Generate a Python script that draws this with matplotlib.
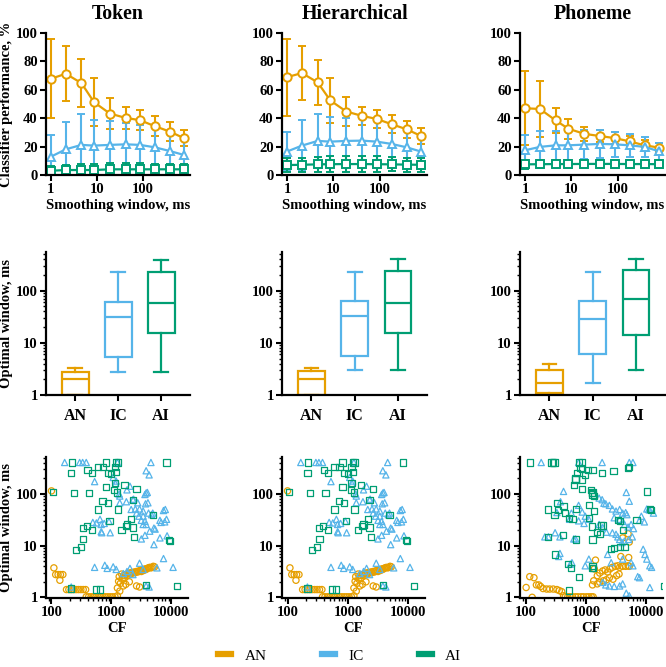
import numpy as np
import matplotlib
matplotlib.use("Agg")
import matplotlib.pyplot as plt
from matplotlib.ticker import LogLocator, NullFormatter
from matplotlib.lines import Line2D

plt.rcParams['font.family'] = ['Liberation Serif', 'DejaVu Serif']
plt.rcParams['font.weight'] = 'bold'
plt.rcParams['axes.labelweight'] = 'bold'

C_AN, C_IC, C_AI = "#E69F00", "#56B4E9", "#009E73"
titles = ["Token", "Hierarchical", "Phoneme"]

# ---- top row: classifier performance vs smoothing window
win = [1, 2.1, 4.6, 8.6, 19, 42, 86, 180, 380, 780]

tok_an = [67.8, 71.3, 64.7, 51.3, 43.3, 40.2, 38.6, 34.4, 30.6, 25.9]
tok_an_sd = [28, 19.5, 17, 17, 11, 7.5, 7, 7, 6.5, 5.5]
tok_ic = [12.9, 18.1, 21.2, 20.7, 21.2, 21.6, 21.2, 19.5, 16.9, 14.1]
tok_ic_sd = [15, 19.5, 22, 18, 17, 15, 14, 13.5, 13, 12]
tok_ai = [3, 3.5, 3.5, 3.5, 4, 4, 4, 4, 4, 4]
tok_ai_sd = [3, 3.5, 4, 4, 4.5, 4.5, 4.5, 4, 4, 4]

hie_an = [68.9, 71.8, 65.2, 52.5, 44.7, 41.6, 39.5, 35.8, 32.2, 27.5]
hie_an_sd = [27, 19, 16, 16, 10, 6.5, 6.5, 6.5, 6, 5.5]
hie_ic = [16.5, 20.7, 24, 23.5, 24, 24.2, 23.5, 21.9, 19.5, 16.5]
hie_ic_sd = [14, 18, 19, 17, 16, 16, 15, 14, 13, 12]
hie_ai = [7, 7.2, 7.5, 7.6, 7.7, 7.7, 7.6, 7.5, 7.3, 7.2]
hie_ai_sd = [5, 5, 5.5, 5.5, 5.5, 5.5, 5.5, 5, 5, 5]

pho_an = [47, 46.5, 38.4, 32.6, 29, 27.4, 26, 23.7, 20.9, 19.3]
pho_an_sd = [26, 20, 9, 7, 5, 4, 4, 4, 4, 3]
pho_ic = [17.4, 19.8, 20.9, 20.9, 21.4, 21.9, 21.6, 20.9, 19.8, 16.7]
pho_ic_sd = [11, 11, 10, 10, 10, 10, 9, 8, 7, 6]
pho_ai = [7.5, 7.6, 7.7, 7.7, 7.8, 7.8, 7.8, 7.7, 7.7, 7.6]
pho_ai_sd = [3, 3, 3, 3, 3, 3, 3, 3, 3, 3]

# ---- middle row: optimal window box stats (min, q1, median, q3, max)
regions = ["AN", "IC", "AI"]
tok_box = [(1, 1, 2, 2.8, 3.3), (2.8, 5.3, 31, 61, 232), (2.8, 15.3, 57, 229, 385)]
hie_box = [(1, 1, 2, 2.9, 3.3), (3, 5.5, 32, 62, 230), (3, 15.5, 58, 235, 400)]
pho_box = [(1, 1.1, 1.7, 3.0, 4), (1.7, 6.2, 29, 63, 224), (3, 14, 68, 250, 405)]

# ---- bottom row: optimal window vs CF, (log10 CF, log10 window)
tok_sc_an = [(2.00, 2.06), (2.04, 0.57), (2.07, 0.44), (2.11, 0.44), (2.15, 0.44), (2.19, 0.44),
             (2.14, 0.33), (2.25, 0.15), (2.29, 0.15), (2.33, 0.15), (2.37, 0.15), (2.41, 0.15),
             (2.45, 0.15), (2.49, 0.15), (2.53, 0.15), (2.57, 0.15), (2.58, 0.01), (2.62, 0.01),
             (2.66, 0.01), (2.70, 0.01), (2.74, 0.01), (2.78, 0.01), (2.82, 0.01), (2.86, 0.01),
             (2.90, 0.01), (2.94, 0.01), (2.98, 0.01), (3.02, 0.01), (3.06, 0.01), (3.10, 0.03),
             (3.12, 0.31), (3.13, 0.40), (3.15, 0.27), (3.17, 0.45), (3.18, 0.35), (3.20, 0.42),
             (3.22, 0.38), (3.24, 0.44), (3.26, 0.42), (3.28, 0.46), (3.30, 0.47), (3.32, 0.45),
             (3.34, 0.48), (3.36, 0.47), (3.38, 0.49), (3.40, 0.48), (3.42, 0.50), (3.44, 0.49),
             (3.46, 0.51), (3.48, 0.52), (3.50, 0.50), (3.52, 0.53), (3.54, 0.52), (3.56, 0.55),
             (3.58, 0.54), (3.60, 0.56), (3.62, 0.57), (3.64, 0.58), (3.66, 0.57), (3.68, 0.58),
             (3.70, 0.60), (3.72, 0.59), (3.20, 0.22), (3.24, 0.25), (3.30, 0.30), (3.42, 0.22),
             (3.47, 0.20), (3.10, 0.18), (3.14, 0.12)]
tok_sc_ic = [(2.22, 2.61), (2.47, 2.61), (2.52, 2.61), (2.58, 2.61), (3.10, 2.61), (3.66, 2.61),
             (3.58, 2.45), (3.63, 2.37), (3.03, 2.32), (2.72, 2.24), (3.08, 2.25), (3.07, 2.20),
             (3.31, 2.15), (3.26, 2.08), (3.13, 2.00), (3.14, 1.96), (3.58, 2.02), (3.60, 2.03),
             (3.56, 1.99), (3.36, 1.89), (3.37, 1.90), (3.44, 1.83), (3.14, 1.83), (3.25, 1.85),
             (3.40, 1.71), (3.33, 1.70), (3.47, 1.71), (3.57, 1.81), (3.61, 1.83), (3.69, 1.63),
             (3.62, 1.63), (3.87, 1.68), (3.90, 1.70), (3.53, 1.67), (3.42, 1.63), (3.46, 1.57),
             (3.50, 1.49), (3.53, 1.57), (3.56, 1.47), (3.58, 1.41), (3.53, 1.41), (3.67, 1.60),
             (3.71, 1.34), (3.73, 1.32), (3.81, 1.49), (3.83, 1.45), (3.89, 1.46), (3.92, 1.51),
             (3.64, 1.28), (3.56, 1.20), (3.50, 1.13), (3.81, 1.15), (3.93, 1.19), (3.71, 1.02),
             (3.87, 0.75), (4.03, 0.58), (3.58, 0.22), (2.81, 1.51), (2.75, 1.44), (2.69, 1.45),
             (2.83, 1.41), (2.88, 1.43), (2.96, 1.47), (2.84, 1.25), (2.98, 1.25), (2.83, 1.27),
             (2.72, 0.58), (2.89, 0.62), (2.93, 0.56), (3.03, 0.59), (3.08, 0.54), (3.31, 0.56),
             (3.26, 0.50), (3.20, 0.46), (3.36, 0.44), (3.53, 0.54), (3.47, 0.66), (3.63, 0.20),
             (3.76, 0.57), (2.33, 0.20)]
tok_sc_ai = [(2.34, 2.61), (2.91, 2.61), (3.08, 2.61), (3.11, 2.61), (3.92, 2.61), (2.33, 2.40),
             (2.60, 2.47), (2.67, 2.40), (2.78, 2.53), (2.86, 2.52), (2.94, 2.40), (3.00, 2.38),
             (3.06, 2.53), (3.08, 2.42), (3.06, 2.21), (2.91, 2.13), (3.05, 2.07), (3.10, 2.03),
             (3.22, 2.17), (3.42, 2.09), (3.36, 1.89), (3.11, 1.70), (2.94, 1.83), (2.85, 1.86),
             (2.78, 1.70), (2.63, 2.02), (2.37, 2.02), (2.03, 2.04), (2.67, 1.31), (2.59, 1.38),
             (2.52, 1.34), (2.41, 0.91), (2.49, 0.98), (2.53, 1.13), (2.97, 1.47), (3.24, 1.38),
             (3.17, 1.31), (3.26, 1.41), (3.36, 1.35), (3.33, 1.51), (3.38, 1.17), (3.69, 1.60),
             (3.98, 1.09), (3.96, 1.11), (2.74, 0.15), (2.81, 0.15), (3.58, 0.24), (4.09, 0.22),
             (2.33, 0.17)]

hie_sc_an, hie_sc_ic, hie_sc_ai = tok_sc_an, tok_sc_ic, tok_sc_ai

pho_sc_an = [(2.01, 0.19), (2.07, 0.40), (2.14, 0.38), (2.11, 0.00), (2.18, 0.24), (2.22, 0.24),
             (2.25, 0.21), (2.29, 0.17), (2.35, 0.16), (2.40, 0.16), (2.46, 0.16), (2.52, 0.15),
             (2.56, 0.13), (2.60, 0.11), (2.63, 0.03), (2.66, 0.01), (2.70, 0.01), (2.74, 0.01),
             (2.78, 0.01), (2.83, 0.01), (2.87, 0.01), (2.92, 0.01), (2.96, 0.01), (3.01, 0.01),
             (3.05, 0.01), (3.09, 0.01), (3.12, 0.01), (3.11, 0.24), (3.13, 0.32), (3.19, 0.42),
             (3.23, 0.47), (3.28, 0.51), (3.32, 0.53), (3.36, 0.49), (3.40, 0.55), (3.44, 0.58),
             (3.49, 0.60), (3.53, 0.61), (3.56, 0.58), (3.61, 0.60), (3.66, 0.60), (3.70, 0.61),
             (3.72, 0.60), (3.14, 0.55), (3.16, 0.72), (3.19, 0.26), (3.23, 0.29), (3.29, 0.32),
             (3.34, 0.34), (3.39, 0.38), (3.45, 0.35), (3.51, 0.42), (3.55, 0.45), (3.58, 0.79),
             (3.71, 0.77), (3.72, 1.07), (3.61, 1.15), (3.70, 1.23)]
pho_sc_ic = [(2.26, 2.61), (2.88, 2.61), (3.27, 2.61), (3.72, 2.61), (3.78, 2.61), (2.63, 2.05),
             (2.88, 1.78), (3.22, 1.92), (3.27, 1.89), (3.30, 1.82), (3.33, 1.81), (3.67, 2.03),
             (3.72, 1.86), (3.39, 1.78), (3.44, 1.71), (3.50, 1.67), (3.56, 1.70), (3.61, 1.63),
             (3.66, 1.64), (3.68, 1.60), (3.47, 1.54), (3.56, 1.51), (3.61, 1.47), (3.64, 1.41),
             (3.70, 1.36), (3.75, 1.41), (3.79, 1.33), (3.89, 1.49), (3.92, 1.57), (3.97, 1.46),
             (4.01, 1.71), (4.04, 1.70), (4.06, 1.69), (4.12, 1.63), (2.94, 1.65), (2.99, 1.57),
             (2.97, 1.43), (3.05, 1.51), (2.76, 1.63), (2.73, 1.51), (2.88, 1.48), (3.22, 1.41),
             (3.28, 1.35), (3.34, 1.26), (3.44, 1.25), (3.50, 1.22), (3.53, 1.17), (3.56, 1.12),
             (3.60, 1.06), (3.64, 1.09), (3.71, 1.12), (3.77, 1.17), (2.58, 1.85), (2.52, 1.64),
             (2.49, 1.25), (2.57, 1.17), (2.80, 1.13), (2.83, 1.13), (2.38, 1.17), (2.32, 1.17),
             (2.57, 0.85), (2.55, 0.79), (2.74, 0.64), (2.77, 0.67), (2.99, 0.61), (3.05, 0.74),
             (3.36, 0.83), (3.42, 0.67), (3.61, 0.74), (3.75, 0.67), (3.78, 0.61), (3.95, 0.93),
             (3.98, 0.83), (4.01, 0.74), (4.06, 0.61), (4.09, 0.58), (3.28, 0.29), (3.33, 0.24),
             (3.39, 0.22), (3.47, 0.21), (3.56, 0.22), (3.61, 0.26), (3.67, 0.08), (3.72, 0.03),
             (3.86, 0.40), (3.89, 0.38), (4.06, 0.19)]
pho_sc_ai = [(2.07, 2.61), (2.43, 2.61), (2.46, 2.61), (2.48, 2.61), (2.91, 2.50), (2.93, 2.48),
             (2.88, 2.61), (2.94, 2.61), (2.85, 2.40), (2.83, 2.30), (2.80, 2.17), (2.83, 2.28),
             (2.94, 2.28), (2.99, 2.37), (3.04, 2.46), (3.11, 2.46), (3.70, 2.50), (3.72, 2.53),
             (3.27, 2.40), (3.46, 2.44), (3.10, 2.02), (3.11, 1.99), (3.13, 1.96), (3.11, 2.03),
             (3.08, 2.07), (3.05, 1.79), (3.14, 1.67), (2.94, 2.09), (2.54, 1.69), (2.63, 1.76),
             (2.65, 1.63), (2.72, 1.54), (2.84, 1.71), (3.05, 1.54), (2.78, 1.51), (2.52, 1.83),
             (2.37, 1.70), (2.48, 1.60), (3.10, 1.37), (3.19, 1.27), (3.23, 1.22), (3.25, 1.39),
             (3.29, 1.39), (2.37, 1.17), (2.62, 1.20), (2.84, 1.12), (2.49, 0.83), (2.71, 0.64),
             (2.75, 0.56), (2.88, 0.40), (3.11, 1.12), (3.42, 0.93), (3.47, 0.96), (3.56, 0.98),
             (3.64, 0.98), (3.53, 1.50), (3.56, 1.47), (3.61, 1.31), (3.84, 1.50), (4.01, 2.05),
             (4.06, 1.71), (4.08, 1.69), (4.29, 0.22), (2.72, 0.13), (3.11, 0.61), (3.10, 0.57),
             (3.12, 0.57)]

perf = [
    [(tok_an, tok_an_sd), (tok_ic, tok_ic_sd), (tok_ai, tok_ai_sd)],
    [(hie_an, hie_an_sd), (hie_ic, hie_ic_sd), (hie_ai, hie_ai_sd)],
    [(pho_an, pho_an_sd), (pho_ic, pho_ic_sd), (pho_ai, pho_ai_sd)],
]
boxes = [tok_box, hie_box, pho_box]
scat = [(tok_sc_an, tok_sc_ic, tok_sc_ai), (hie_sc_an, hie_sc_ic, hie_sc_ai),
        (pho_sc_an, pho_sc_ic, pho_sc_ai)]
colors = [C_AN, C_IC, C_AI]
markers = ['o', '^', 's']

W, H = 666, 667
fig = plt.figure(figsize=(6.66, 6.67), dpi=100)


def px_axes(left, top, right, bottom):
    return fig.add_axes([left / W, 1 - bottom / H, (right - left) / W, (bottom - top) / H])


def style(ax):
    for s in ['top', 'right']:
        ax.spines[s].set_visible(False)
    for s in ['left', 'bottom']:
        ax.spines[s].set_linewidth(1.6)
    ax.tick_params(which='major', length=4, width=1.5, labelsize=10.5, pad=2)
    ax.tick_params(which='minor', length=2.5, width=1.0)


lefts = [46, 282, 520]
rights = [190, 427, 665]

for j in range(3):
    L, R = lefts[j], rights[j]

    # top
    ax = px_axes(L, 33, R, 175)
    for (m, sd), c, mk in zip(perf[j], colors, markers):
        ax.errorbar(win, m, yerr=sd, color=c, marker=mk, ms=6, mfc='white', mec=c,
                    mew=1.4, lw=1.6, capsize=3, capthick=1.5, elinewidth=1.5)
    ax.set_xscale('log')
    ax.set_xlim(0.78, 1050)
    ax.set_ylim(0, 100)
    ax.set_yticks([0, 20, 40, 60, 80, 100])
    ax.set_xticks([1, 10, 100])
    ax.set_xticklabels(['1', '10', '100'])
    ax.xaxis.set_minor_locator(LogLocator(subs=np.arange(2, 10)))
    ax.xaxis.set_minor_formatter(NullFormatter())
    style(ax)
    ax.set_title(titles[j], fontsize=14.3, fontweight='bold', pad=10)
    ax.set_xlabel("Smoothing window, ms", fontsize=10.5, labelpad=2)
    if j == 0:
        ax.set_ylabel("Classifier performance, %", fontsize=10.5, labelpad=2)

    # middle
    ax = px_axes(L, 252, R, 395)
    stats = []
    for name, b in zip(regions, boxes[j]):
        stats.append(dict(label=name, whislo=b[0], q1=b[1], med=b[2], q3=b[3], whishi=b[4]))
    art = ax.bxp(stats, positions=[1, 2, 3], widths=0.62, showfliers=False, patch_artist=True,
                 capwidths=0.32)
    for k, c in enumerate(colors):
        art['boxes'][k].set(facecolor='white', edgecolor=c, linewidth=1.6)
        art['medians'][k].set(color=c, linewidth=1.6)
        for w in art['whiskers'][2 * k:2 * k + 2]:
            w.set(color=c, linewidth=1.6)
        for cp in art['caps'][2 * k:2 * k + 2]:
            cp.set(color=c, linewidth=1.6)
    ax.set_yscale('log')
    ax.set_ylim(1, 550)
    ax.set_xlim(0.32, 3.67)
    ax.set_yticks([1, 10, 100])
    ax.set_yticklabels(['1', '10', '100'])
    ax.yaxis.set_minor_locator(LogLocator(subs=np.arange(2, 10)))
    ax.yaxis.set_minor_formatter(NullFormatter())
    style(ax)
    ax.tick_params(axis='x', labelsize=11.5, pad=5)
    if j == 0:
        ax.set_ylabel("Optimal window, ms", fontsize=10.5, labelpad=2)

    # bottom
    ax = px_axes(L, 457, R - 2, 598)
    for pts, c, mk in zip(scat[j], colors, markers):
        lcf = np.array([p[0] for p in pts])
        lw = np.array([p[1] for p in pts])
        ax.scatter(10 ** lcf, 10 ** lw, s=20, marker=mk, facecolors='none', edgecolors=c,
                   linewidths=0.9)
    ax.set_xscale('log')
    ax.set_yscale('log')
    ax.set_xlim(81, 19000)
    ax.set_ylim(0.97, 520)
    ax.set_xticks([100, 1000, 10000])
    ax.set_xticklabels(['100', '1000', '10000'])
    ax.set_yticks([1, 10, 100])
    ax.set_yticklabels(['1', '10', '100'])
    ax.xaxis.set_minor_locator(LogLocator(subs=np.arange(2, 10)))
    ax.yaxis.set_minor_locator(LogLocator(subs=np.arange(2, 10)))
    ax.xaxis.set_minor_formatter(NullFormatter())
    ax.yaxis.set_minor_formatter(NullFormatter())
    style(ax)
    ax.set_xlabel("CF", fontsize=10.5, labelpad=2)
    if j == 0:
        ax.set_ylabel("Optimal window, ms", fontsize=10.5, labelpad=2)

handles = [Line2D([0], [0], color=c, lw=4.5) for c in colors]
fig.legend(handles, regions, loc='lower center', bbox_to_anchor=(0.51, -0.014), ncol=3,
           frameon=False, handlelength=0.85, handletextpad=0.9, columnspacing=3.6,
           prop={'family': ['Liberation Serif'], 'weight': 'normal', 'size': 11})

fig.savefig("out.png", dpi=100)
